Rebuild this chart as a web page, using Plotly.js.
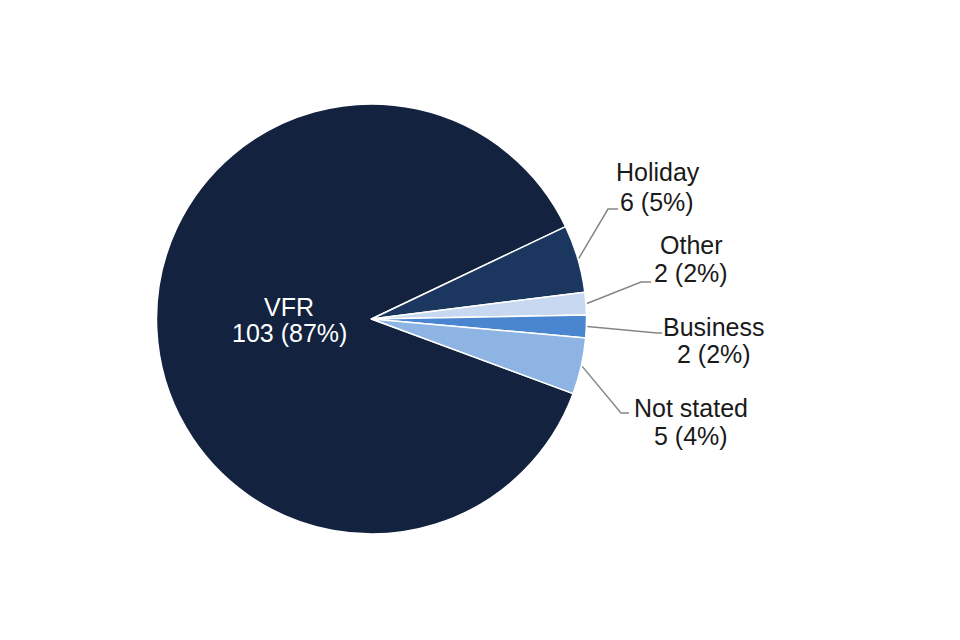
<!DOCTYPE html>
<html>
<head>
<meta charset="utf-8">
<script src="https://cdn.plot.ly/plotly-3.0.1.min.js"></script>
<style>
  html, body { margin: 0; padding: 0; background: #ffffff; }
  #chart { width: 960px; height: 640px; }
</style>
</head>
<body>
<div id="chart"></div>
<script>
// ---- Data ----
const categories = ["VFR", "Holiday", "Other", "Business", "Not stated"];
const counts = [103, 6, 2, 2, 5];

// ---- Styles / layout config ----
const sliceColors = ["#13223e", "#1b365f", "#c6d9f1", "#4a86d0", "#8db4e3"];
const W = 960, H = 640;
const CX = 371.5, CY = 319, R = 215;      // pie centre and radius (px)
const ROTATION = 110.3;                     // start angle of first slice, clockwise from 12 o'clock
const FONT = "Liberation Sans, Arial, sans-serif";
const FS = 25;

// label placement: [x centre line1, y line1, x centre line2, y line2]
const labelPos = {
  "VFR":        [288.5, 307, 289, 333],
  "Holiday":    [658, 172, 657, 201.5],
  "Other":      [691, 244.5, 691, 272.5],
  "Business":   [713, 326.5, 714, 354],
  "Not stated": [690.5, 407.5, 690.5, 436]
};
// leader line: elbow and end points (px)
const leaderPos = {
  "Holiday":    [[608, 209], [618, 209]],
  "Other":      [[641, 282], [651, 282]],
  "Business":   [[657, 333], [662, 333]],
  "Not stated": [[621, 413], [629, 413]]
};

const px = x => x / W;
const py = y => 1 - y / H;

const total = counts.reduce((a, b) => a + b, 0);

const trace = {
  type: "pie",
  labels: categories,
  values: counts,
  sort: false,
  direction: "clockwise",
  rotation: ROTATION,
  textinfo: "none",
  hoverinfo: "label+value+percent",
  marker: { colors: sliceColors, line: { color: "#ffffff", width: 1.5 } },
  domain: { x: [px(CX - R), px(CX + R)], y: [py(CY + R), py(CY - R)] },
  showlegend: false
};

const annotations = [];
const shapes = [];
let cum = 0;
categories.forEach((cat, i) => {
  const v = counts[i];
  const pct = Math.round(v / total * 100);
  const mid = (ROTATION + (cum + v / 2) / total * 360) * Math.PI / 180;
  cum += v;
  const lp = labelPos[cat];
  const col = cat === "VFR" ? "#ffffff" : "#1a1a1a";
  annotations.push({
    xref: "paper", yref: "paper", x: px(lp[0]), y: py(lp[1]),
    xanchor: "center", yanchor: "middle", showarrow: false,
    text: cat, font: { family: FONT, size: FS, color: col }
  });
  annotations.push({
    xref: "paper", yref: "paper", x: px(lp[2]), y: py(lp[3]),
    xanchor: "center", yanchor: "middle", showarrow: false,
    text: v + " (" + pct + "%)", font: { family: FONT, size: FS, color: col }
  });
  if (leaderPos[cat]) {
    const sx = CX + (R + 1) * Math.sin(mid);
    const sy = CY - (R + 1) * Math.cos(mid);
    const [e, f] = leaderPos[cat];
    shapes.push({
      type: "path", xref: "paper", yref: "paper",
      path: "M " + px(sx) + "," + py(sy) + " L " + px(e[0]) + "," + py(e[1]) + " L " + px(f[0]) + "," + py(f[1]),
      line: { color: "#868686", width: 1.5 }
    });
  }
});

const layout = {
  width: W, height: H,
  margin: { l: 0, r: 0, t: 0, b: 0 },
  paper_bgcolor: "#ffffff",
  plot_bgcolor: "#ffffff",
  showlegend: false,
  annotations: annotations,
  shapes: shapes
};

Plotly.newPlot("chart", [trace], layout, { displayModeBar: false, staticPlot: true });
</script>
</body>
</html>
